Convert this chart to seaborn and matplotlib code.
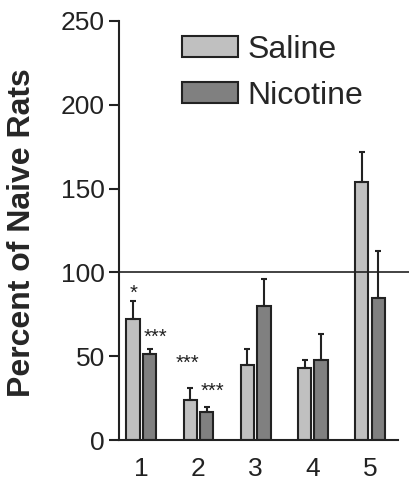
import matplotlib
matplotlib.use("Agg")
import matplotlib.pyplot as plt
import numpy as np
import pandas as pd
import seaborn as sns

# Group means (percent of naive rats) and upward SEM
groups = ["1", "2", "3", "4", "5"]
saline = [72, 24, 44.5, 43, 154]
saline_err = [11, 7, 9.5, 5, 18]
nicotine = [51.5, 17, 80, 48, 85]
nicotine_err = [2.5, 2.5, 16, 15.5, 27.5]
treatments = ["Saline", "Nicotine"]
colors = ["#c0c0c0", "#808080"]
yticks = [0, 50, 100, 150, 200, 250]

# Significance marks: (x in category units, baseline y, label)
marks = [(-0.13, 84, "*"), (0.25, 58, "***"), (0.81, 42.5, "***"), (1.24, 26, "***")]

df = pd.DataFrame({
    "group": groups * 2,
    "treatment": [treatments[0]] * len(groups) + [treatments[1]] * len(groups),
    "value": saline + nicotine,
})
errs = [saline_err, nicotine_err]

sns.set_style("ticks")
plt.rcParams["font.family"] = ["Liberation Sans", "DejaVu Sans"]

fig = plt.figure(figsize=(4.09, 4.84), dpi=100)
ax = fig.add_axes([119 / 409, 1 - 440 / 484, (398 - 119) / 409, (440 - 21) / 484])

sns.barplot(data=df, x="group", y="value", hue="treatment", hue_order=treatments,
            palette=colors, width=0.58, gap=0.2, edgecolor="#222222",
            linewidth=1.5, errorbar=None, ax=ax)

for cont, err in zip(ax.containers, errs):
    xs = [b.get_x() + b.get_width() / 2 for b in cont]
    tops = [b.get_height() for b in cont]
    ax.errorbar(xs, tops, yerr=[np.zeros(len(err)), err], fmt="none",
                ecolor="#222222", elinewidth=1.5, capsize=2.5, capthick=1.5, zorder=1)

ax.axhline(100, xmin=0, xmax=(409 - 119) / (398 - 119), color="#222222",
           lw=1.2, clip_on=False, zorder=5)

for x, y, s in marks:
    ax.text(x, y, s, ha="center", va="baseline", fontsize=14.5, color="#222222")

ax.set_xlim(-0.39, 4.49)
ax.set_ylim(0, 250)
ax.set_yticks(yticks)
ax.set_xlabel("")
ax.set_ylabel("Percent of Naive Rats", fontsize=23, fontweight="bold")
ax.yaxis.set_label_coords(-(119 - 37) / (398 - 119), (440 - 233) / (440 - 21))
ax.tick_params(axis="y", labelsize=19, length=7, width=1.5, color="#222222",
               labelcolor="#222222", pad=3)
ax.tick_params(axis="x", labelsize=19, length=0, labelcolor="#222222", pad=12)
for side in ["top", "right"]:
    ax.spines[side].set_visible(False)
for side in ["left", "bottom"]:
    ax.spines[side].set_linewidth(1.5)
    ax.spines[side].set_color("#222222")

handles, labels = ax.get_legend_handles_labels()
ax.legend(handles, labels, loc="upper left", bbox_to_anchor=(182 / 409, 1 - 35 / 484),
          bbox_transform=fig.transFigure, frameon=False, fontsize=23,
          handlelength=1.75, handleheight=0.63, handletextpad=0.31,
          labelspacing=0.49, borderpad=0, borderaxespad=0)

fig.savefig("out.png", dpi=100)
